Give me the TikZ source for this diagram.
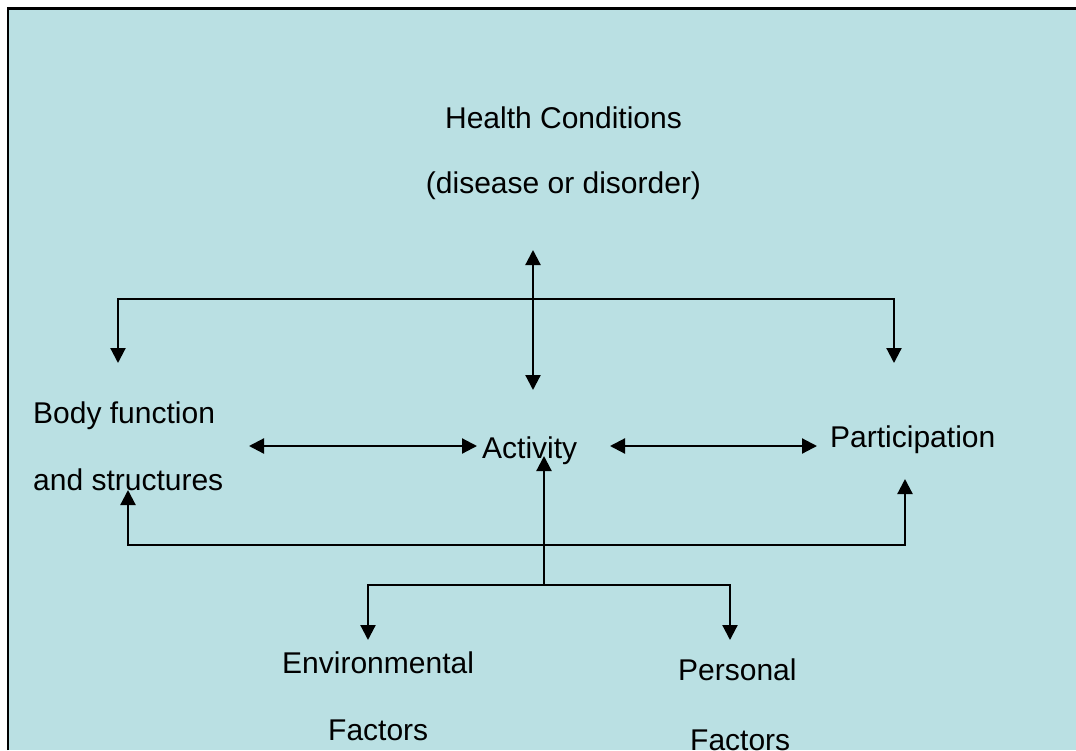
\documentclass[tikz,border=0pt]{standalone}
\usepackage{fontspec}
\setmainfont{Liberation Sans}
\usetikzlibrary{arrows.meta}
\definecolor{bgblue}{RGB}{186,224,227}
\tikzset{
  lbl/.style={anchor=base west, inner sep=0pt, font=\fontsize{30}{36}\selectfont},
  lblc/.style={anchor=base, inner sep=0pt, font=\fontsize{30}{36}\selectfont},
  conn/.style={line width=2.2pt},
  mytri/.tip={Triangle[length=15pt,width=15pt]}
}
\begin{document}
\begin{tikzpicture}[x=1pt,y=-1pt]
\useasboundingbox (0,0) rectangle (1076,750);
\fill[white] (0,0) rectangle (1076,750);
\fill[bgblue] (8,8.5) rectangle (1076,750);
\draw[line width=2.5pt] (8,750) -- (8,8.5) -- (1076,8.5);

% texts
\node[lblc] (hc1) at (563.5,128) {Health Conditions};
\node[lblc] (hc2) at (563.5,193) {(disease or disorder)};
\node[lbl] (bf1) at (33,423) {Body function};
\node[lbl] (bf2) at (33,490) {and structures};
\node[lbl] (act) at (482,458) {Activity};
\node[lbl] (par) at (830,447) {Participation};
\node[lbl] (env1) at (282,673) {Environmental};
\node[lbl] (env2) at (328,740) {Factors};
\node[lbl] (per1) at (678,680) {Personal};
\node[lbl] (per2) at (690,750) {Factors};

% coordinates
\coordinate (hcTop) at (533,250);
\coordinate (hcBot) at (533,390);
\coordinate (brL) at (118,363);
\coordinate (brLt) at (118,299);
\coordinate (brRt) at (894,299);
\coordinate (brR) at (894,363);
\coordinate (bfR) at (249,446);
\coordinate (actL) at (477,446);
\coordinate (actR) at (610,446);
\coordinate (parL) at (817,446);
\coordinate (lpL) at (128,490);
\coordinate (lpLb) at (128,545);
\coordinate (lpRb) at (905,545);
\coordinate (lpR) at (905,479);
\coordinate (actB) at (544,456);
\coordinate (jn) at (544,585);
\coordinate (envT) at (368,640);
\coordinate (envTt) at (368,585);
\coordinate (perTt) at (730,585);
\coordinate (perT) at (730,640);

% connectors
\draw[conn,mytri-mytri] (hcTop) -- (hcBot);
\draw[conn,mytri-mytri] (brL) -- (brLt) -- (brRt) -- (brR);
\draw[conn,mytri-mytri] (bfR) -- (actL);
\draw[conn,mytri-mytri] (actR) -- (parL);
\draw[conn,mytri-mytri] (lpL) -- (lpLb) -- (lpRb) -- (lpR);
\draw[conn,-mytri] (jn) -- (actB);
\draw[conn,mytri-mytri] (envT) -- (envTt) -- (perTt) -- (perT);
\end{tikzpicture}
\end{document}
